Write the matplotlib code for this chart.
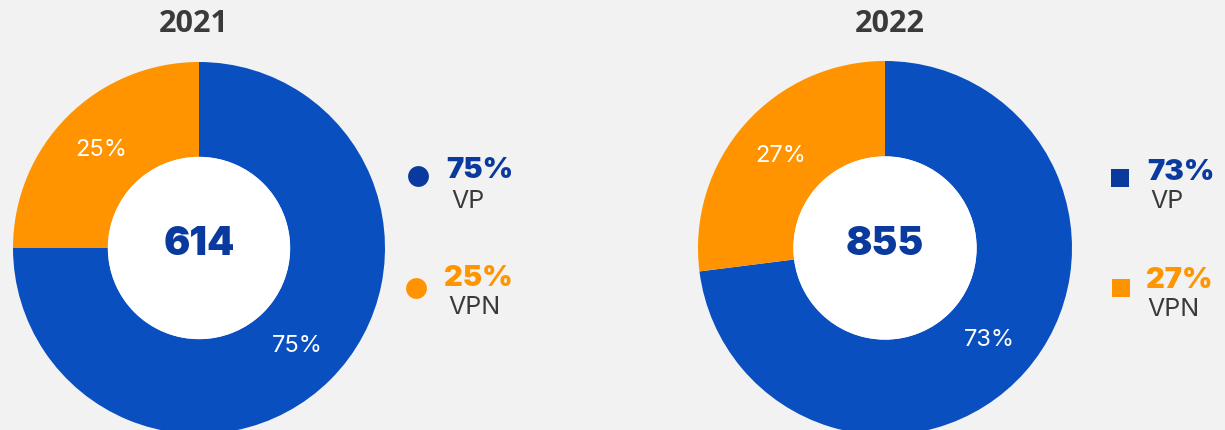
import matplotlib
matplotlib.use("Agg")
import matplotlib.pyplot as plt
from matplotlib.patches import Circle

# ---- data ----
years = ["2021", "2022"]
totals = [614, 855]
categories = ["VP", "VPN"]
vp_share = [75, 73]
vpn_share = [25, 27]

# ---- style ----
BG = "#f2f2f2"
BLUE = "#0a4fc0"
BLUE_TXT = "#0b3a9e"
ORANGE = "#ff9300"
ORANGE_TXT = "#ff9500"
GRAY_TXT = "#3a3a3a"

W, H = 1225, 430
fig = plt.figure(figsize=(W / 100, H / 100), dpi=100, facecolor=BG)

# donut geometry (pixels): centre x, centre y (from top), radius
donuts = [(199, 248, 186), (885, 248, 187)]
hole = 0.49

for i, (cx, cy, r) in enumerate(donuts):
    ax = fig.add_axes([(cx - r) / W, (H - cy - r) / H, 2 * r / W, 2 * r / H])
    vals = [vp_share[i], vpn_share[i]]
    wedges, _, autotexts = ax.pie(
        vals, colors=[BLUE, ORANGE], startangle=90, counterclock=False,
        radius=1, wedgeprops=dict(width=1 - hole, linewidth=0),
        autopct=lambda p: f"{p:.0f}%", pctdistance=(1 + hole) / 2,
        textprops=dict(color="white", fontsize=17, family="Inter", fontweight="normal"))
    ax.set_xlim(-1, 1)
    ax.set_ylim(-1, 1)
    ax.axis("off")
    ax.add_patch(Circle((0, 0), hole, facecolor="white", edgecolor="none", zorder=3))
    ax.text(0, 0.02, str(totals[i]), ha="center", va="center", fontsize=28,
            fontweight="black", color=BLUE_TXT, family="Inter", zorder=4)

# overlay axes in pixel coordinates for titles & legends
ov = fig.add_axes([0, 0, 1, 1], facecolor="none")
ov.set_xlim(0, W)
ov.set_ylim(H, 0)
ov.axis("off")

title_x = [194, 890]
for i in range(2):
    ov.text(title_x[i], 24, years[i], ha="center", va="center", fontsize=22,
            fontweight="bold", color=GRAY_TXT, family="Open Sans")

# legends
leg = [
    dict(mx=[418, 416], my=[176, 288], tx=[446, 444], ty=[171, 279], lx=[451, 448], ly=[201, 307], marker="o"),
    dict(mx=[1120, 1121], my=[178, 288], tx=[1147, 1146], ty=[172, 281], lx=[1150, 1147], ly=[202, 310], marker="s"),
]
for i, L in enumerate(leg):
    shares = [vp_share[i], vpn_share[i]]
    cols = [BLUE_TXT, ORANGE]
    for k in range(2):
        ov.plot(L["mx"][k], L["my"][k], marker=L["marker"], markersize=15 if L["marker"] == "o" else 13,
                color=cols[k], markeredgewidth=0)
        ov.text(L["tx"][k], L["ty"][k], f"{shares[k]}%", ha="left", va="center", fontsize=21,
                fontweight="black", color=BLUE_TXT if k == 0 else ORANGE_TXT, family="Inter")
        ov.text(L["lx"][k], L["ly"][k], categories[k], ha="left", va="center", fontsize=18,
                color=GRAY_TXT, family="Inter")

fig.savefig("out.png", dpi=100, facecolor=BG)
